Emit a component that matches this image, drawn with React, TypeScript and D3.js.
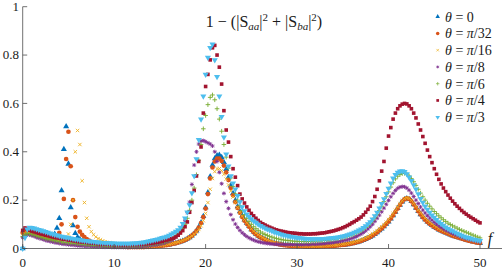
import * as d3 from "d3";

const width = 504;
const height = 268;

// frequencies are sampled every 0.25 from 0 to 50 (201 points per curve)
const fStep = 0.25;

// 1 - (|Saa|^2 + |Sba|^2)
const theta0 = [
  0.000, 0.055, 0.068, 0.066, 0.063, 0.060, 0.057, 0.054, 0.051, 0.048, 0.046, 0.045, 0.046, 0.050, 0.060, 0.085, 0.125, 0.240, 0.410, 0.505,
  0.350, 0.170, 0.095, 0.063, 0.047, 0.038, 0.032, 0.028, 0.025, 0.022, 0.020, 0.018, 0.016, 0.015, 0.013, 0.012, 0.011, 0.010, 0.009, 0.009,
  0.008, 0.008, 0.007, 0.007, 0.006, 0.006, 0.006, 0.006, 0.006, 0.006, 0.006, 0.006, 0.006, 0.007, 0.007, 0.007, 0.008, 0.008, 0.009, 0.010,
  0.011, 0.012, 0.013, 0.015, 0.016, 0.018, 0.020, 0.022, 0.025, 0.028, 0.031, 0.035, 0.040, 0.046, 0.053, 0.062, 0.073, 0.088, 0.107, 0.133,
  0.170, 0.232, 0.298, 0.345, 0.372, 0.385, 0.387, 0.377, 0.357, 0.328, 0.295, 0.260, 0.228, 0.199, 0.174, 0.153, 0.135, 0.119, 0.105, 0.093,
  0.079, 0.069, 0.060, 0.053, 0.047, 0.042, 0.037, 0.033, 0.029, 0.026, 0.023, 0.021, 0.019, 0.017, 0.015, 0.014, 0.013, 0.012, 0.011, 0.010,
  0.010, 0.009, 0.009, 0.009, 0.008, 0.008, 0.008, 0.008, 0.008, 0.008, 0.009, 0.009, 0.009, 0.010, 0.010, 0.011, 0.011, 0.012, 0.013, 0.014,
  0.015, 0.016, 0.017, 0.019, 0.021, 0.023, 0.025, 0.028, 0.031, 0.034, 0.038, 0.043, 0.048, 0.053, 0.059, 0.066, 0.074, 0.082, 0.091, 0.101,
  0.111, 0.123, 0.137, 0.151, 0.166, 0.180, 0.193, 0.203, 0.207, 0.204, 0.195, 0.182, 0.168, 0.154, 0.141, 0.130, 0.120, 0.111, 0.103, 0.096,
  0.089, 0.084, 0.078, 0.073, 0.069, 0.065, 0.061, 0.057, 0.053, 0.050, 0.047, 0.044, 0.041, 0.038, 0.035, 0.033, 0.030, 0.028, 0.026, 0.024,
  0.022,
];

const thetaPi32 = [
  0.065, 0.070, 0.070, 0.067, 0.064, 0.061, 0.058, 0.055, 0.052, 0.049, 0.047, 0.045, 0.044, 0.043, 0.044, 0.050, 0.065, 0.100, 0.205, 0.370,
  0.483, 0.340, 0.200, 0.130, 0.090, 0.070, 0.057, 0.047, 0.039, 0.033, 0.028, 0.024, 0.021, 0.018, 0.016, 0.014, 0.013, 0.012, 0.011, 0.010,
  0.009, 0.009, 0.008, 0.008, 0.007, 0.007, 0.006, 0.006, 0.006, 0.006, 0.006, 0.006, 0.006, 0.006, 0.007, 0.007, 0.008, 0.008, 0.009, 0.010,
  0.011, 0.012, 0.013, 0.014, 0.016, 0.018, 0.020, 0.022, 0.025, 0.028, 0.031, 0.035, 0.040, 0.046, 0.053, 0.062, 0.073, 0.087, 0.105, 0.130,
  0.165, 0.225, 0.290, 0.335, 0.360, 0.372, 0.372, 0.362, 0.343, 0.315, 0.283, 0.250, 0.220, 0.192, 0.168, 0.148, 0.130, 0.115, 0.102, 0.090,
  0.077, 0.067, 0.059, 0.052, 0.046, 0.041, 0.036, 0.032, 0.028, 0.025, 0.022, 0.020, 0.018, 0.016, 0.014, 0.013, 0.012, 0.011, 0.010, 0.010,
  0.009, 0.009, 0.009, 0.008, 0.008, 0.008, 0.008, 0.008, 0.008, 0.008, 0.009, 0.009, 0.009, 0.010, 0.010, 0.011, 0.011, 0.012, 0.013, 0.014,
  0.015, 0.016, 0.018, 0.019, 0.021, 0.023, 0.026, 0.028, 0.031, 0.035, 0.039, 0.043, 0.048, 0.054, 0.060, 0.067, 0.075, 0.083, 0.092, 0.102,
  0.112, 0.124, 0.137, 0.151, 0.165, 0.180, 0.194, 0.204, 0.208, 0.205, 0.195, 0.182, 0.168, 0.154, 0.141, 0.129, 0.119, 0.110, 0.102, 0.095,
  0.089, 0.083, 0.078, 0.073, 0.069, 0.065, 0.061, 0.057, 0.053, 0.050, 0.047, 0.044, 0.041, 0.038, 0.035, 0.032, 0.030, 0.028, 0.026, 0.024,
  0.023,
];

const thetaPi16 = [
  0.055, 0.062, 0.064, 0.063, 0.061, 0.058, 0.055, 0.052, 0.049, 0.046, 0.044, 0.042, 0.040, 0.038, 0.036, 0.035, 0.035, 0.036, 0.038, 0.045,
  0.060, 0.100, 0.200, 0.400, 0.488, 0.430, 0.280, 0.190, 0.125, 0.090, 0.070, 0.057, 0.048, 0.041, 0.036, 0.032, 0.028, 0.025, 0.023, 0.021,
  0.019, 0.017, 0.016, 0.014, 0.013, 0.012, 0.011, 0.010, 0.010, 0.010, 0.009, 0.009, 0.009, 0.009, 0.009, 0.009, 0.010, 0.010, 0.011, 0.012,
  0.013, 0.014, 0.015, 0.016, 0.018, 0.020, 0.022, 0.024, 0.027, 0.030, 0.033, 0.037, 0.041, 0.046, 0.052, 0.059, 0.068, 0.079, 0.094, 0.115,
  0.145, 0.190, 0.245, 0.290, 0.318, 0.330, 0.330, 0.322, 0.307, 0.287, 0.263, 0.238, 0.213, 0.190, 0.169, 0.150, 0.134, 0.120, 0.107, 0.096,
  0.082, 0.072, 0.064, 0.057, 0.051, 0.045, 0.040, 0.036, 0.032, 0.029, 0.026, 0.023, 0.021, 0.019, 0.017, 0.016, 0.015, 0.014, 0.013, 0.012,
  0.012, 0.011, 0.011, 0.011, 0.010, 0.010, 0.010, 0.010, 0.010, 0.010, 0.011, 0.011, 0.011, 0.012, 0.012, 0.013, 0.014, 0.015, 0.016, 0.017,
  0.018, 0.020, 0.021, 0.023, 0.025, 0.028, 0.030, 0.033, 0.037, 0.040, 0.045, 0.049, 0.055, 0.061, 0.067, 0.074, 0.082, 0.090, 0.099, 0.109,
  0.120, 0.132, 0.145, 0.158, 0.172, 0.186, 0.198, 0.206, 0.210, 0.207, 0.199, 0.187, 0.174, 0.160, 0.148, 0.136, 0.126, 0.117, 0.109, 0.102,
  0.095, 0.089, 0.083, 0.078, 0.074, 0.070, 0.066, 0.062, 0.059, 0.055, 0.052, 0.049, 0.046, 0.043, 0.041, 0.038, 0.036, 0.034, 0.032, 0.030,
  0.029,
];

const thetaPi8 = [
  0.045, 0.052, 0.058, 0.056, 0.053, 0.050, 0.046, 0.043, 0.040, 0.037, 0.034, 0.031, 0.029, 0.027, 0.025, 0.023, 0.021, 0.020, 0.018, 0.017,
  0.016, 0.015, 0.014, 0.013, 0.012, 0.011, 0.011, 0.010, 0.009, 0.009, 0.008, 0.008, 0.007, 0.007, 0.007, 0.006, 0.006, 0.006, 0.006, 0.005,
  0.005, 0.005, 0.005, 0.005, 0.005, 0.005, 0.005, 0.006, 0.006, 0.006, 0.007, 0.007, 0.008, 0.009, 0.010, 0.011, 0.012, 0.013, 0.015, 0.016,
  0.018, 0.020, 0.023, 0.026, 0.030, 0.034, 0.040, 0.048, 0.058, 0.072, 0.090, 0.115, 0.148, 0.192, 0.265, 0.345, 0.400, 0.432, 0.445, 0.446,
  0.442, 0.437, 0.432, 0.424, 0.400, 0.360, 0.315, 0.268, 0.228, 0.194, 0.166, 0.140, 0.119, 0.101, 0.087, 0.075, 0.065, 0.057, 0.050, 0.044,
  0.039, 0.035, 0.031, 0.028, 0.026, 0.024, 0.022, 0.021, 0.020, 0.019, 0.018, 0.018, 0.017, 0.017, 0.017, 0.016, 0.016, 0.016, 0.016, 0.016,
  0.016, 0.016, 0.016, 0.016, 0.017, 0.017, 0.017, 0.018, 0.018, 0.019, 0.019, 0.020, 0.021, 0.022, 0.023, 0.024, 0.025, 0.027, 0.028, 0.030,
  0.032, 0.034, 0.036, 0.039, 0.042, 0.046, 0.050, 0.055, 0.060, 0.066, 0.073, 0.081, 0.090, 0.100, 0.112, 0.125, 0.138, 0.152, 0.167, 0.183,
  0.199, 0.214, 0.228, 0.240, 0.249, 0.254, 0.256, 0.255, 0.250, 0.241, 0.229, 0.215, 0.200, 0.186, 0.172, 0.159, 0.147, 0.136, 0.126, 0.117,
  0.108, 0.101, 0.094, 0.087, 0.081, 0.076, 0.071, 0.066, 0.062, 0.058, 0.054, 0.051, 0.047, 0.044, 0.041, 0.039, 0.036, 0.034, 0.032, 0.030,
  0.028,
];

const thetaPi6 = [
  0.050, 0.056, 0.062, 0.061, 0.059, 0.056, 0.053, 0.050, 0.047, 0.044, 0.041, 0.039, 0.037, 0.035, 0.033, 0.031, 0.029, 0.028, 0.026, 0.025,
  0.024, 0.023, 0.022, 0.021, 0.020, 0.019, 0.018, 0.017, 0.016, 0.015, 0.015, 0.014, 0.013, 0.013, 0.012, 0.012, 0.011, 0.011, 0.011, 0.010,
  0.010, 0.010, 0.010, 0.010, 0.010, 0.010, 0.010, 0.010, 0.011, 0.011, 0.012, 0.012, 0.013, 0.014, 0.015, 0.016, 0.017, 0.018, 0.020, 0.021,
  0.023, 0.025, 0.027, 0.030, 0.034, 0.038, 0.044, 0.051, 0.060, 0.070, 0.083, 0.100, 0.125, 0.158, 0.200, 0.250, 0.305, 0.365, 0.430, 0.495,
  0.550, 0.595, 0.625, 0.635, 0.615, 0.578, 0.535, 0.485, 0.430, 0.378, 0.332, 0.292, 0.257, 0.226, 0.200, 0.177, 0.157, 0.140, 0.125, 0.112,
  0.100, 0.090, 0.082, 0.075, 0.068, 0.063, 0.058, 0.054, 0.050, 0.047, 0.044, 0.041, 0.039, 0.037, 0.035, 0.034, 0.033, 0.032, 0.031, 0.030,
  0.030, 0.029, 0.029, 0.029, 0.029, 0.029, 0.029, 0.030, 0.030, 0.031, 0.031, 0.032, 0.033, 0.034, 0.035, 0.036, 0.038, 0.039, 0.041, 0.043,
  0.045, 0.047, 0.050, 0.053, 0.056, 0.060, 0.064, 0.069, 0.074, 0.080, 0.087, 0.095, 0.104, 0.115, 0.127, 0.141, 0.157, 0.175, 0.194, 0.214,
  0.234, 0.254, 0.272, 0.288, 0.299, 0.306, 0.310, 0.311, 0.308, 0.300, 0.289, 0.276, 0.261, 0.245, 0.229, 0.214, 0.200, 0.187, 0.175, 0.164,
  0.153, 0.144, 0.135, 0.127, 0.119, 0.112, 0.105, 0.099, 0.094, 0.089, 0.084, 0.079, 0.075, 0.071, 0.067, 0.063, 0.059, 0.055, 0.051, 0.047,
  0.044,
];

const thetaPi4 = [
  0.075, 0.085, 0.080, 0.076, 0.072, 0.069, 0.066, 0.063, 0.060, 0.058, 0.055, 0.053, 0.050, 0.048, 0.046, 0.044, 0.042, 0.040, 0.038, 0.037,
  0.035, 0.034, 0.032, 0.031, 0.029, 0.028, 0.027, 0.026, 0.025, 0.024, 0.023, 0.022, 0.021, 0.020, 0.019, 0.019, 0.018, 0.018, 0.017, 0.017,
  0.016, 0.016, 0.016, 0.015, 0.015, 0.015, 0.016, 0.016, 0.016, 0.017, 0.017, 0.018, 0.018, 0.019, 0.020, 0.021, 0.022, 0.023, 0.025, 0.026,
  0.028, 0.030, 0.033, 0.035, 0.038, 0.040, 0.043, 0.048, 0.055, 0.064, 0.074, 0.090, 0.110, 0.150, 0.190, 0.240, 0.300, 0.360, 0.420, 0.560,
  0.670, 0.720, 0.780, 0.830, 0.840, 0.800, 0.750, 0.680, 0.570, 0.490, 0.440, 0.380, 0.330, 0.295, 0.260, 0.225, 0.205, 0.188, 0.172, 0.158,
  0.145, 0.135, 0.125, 0.116, 0.108, 0.102, 0.097, 0.092, 0.088, 0.084, 0.080, 0.077, 0.074, 0.072, 0.070, 0.068, 0.066, 0.065, 0.064, 0.063,
  0.062, 0.061, 0.061, 0.060, 0.060, 0.060, 0.060, 0.061, 0.061, 0.062, 0.063, 0.064, 0.065, 0.067, 0.069, 0.071, 0.073, 0.076, 0.079, 0.082,
  0.086, 0.090, 0.095, 0.100, 0.106, 0.111, 0.117, 0.123, 0.130, 0.139, 0.150, 0.162, 0.175, 0.194, 0.215, 0.245, 0.280, 0.320, 0.360, 0.415,
  0.465, 0.500, 0.535, 0.560, 0.578, 0.590, 0.597, 0.600, 0.598, 0.590, 0.578, 0.560, 0.540, 0.515, 0.490, 0.463, 0.435, 0.407, 0.380, 0.355,
  0.330, 0.307, 0.286, 0.267, 0.250, 0.235, 0.221, 0.208, 0.196, 0.185, 0.175, 0.166, 0.157, 0.149, 0.142, 0.135, 0.129, 0.123, 0.117, 0.111,
  0.106,
];

const thetaPi3 = [
  0.000, 0.045, 0.080, 0.087, 0.086, 0.084, 0.081, 0.078, 0.075, 0.072, 0.069, 0.066, 0.063, 0.060, 0.057, 0.055, 0.052, 0.050, 0.048, 0.046,
  0.044, 0.042, 0.040, 0.038, 0.037, 0.035, 0.034, 0.032, 0.031, 0.030, 0.029, 0.028, 0.027, 0.026, 0.025, 0.024, 0.024, 0.023, 0.023, 0.022,
  0.022, 0.021, 0.021, 0.021, 0.021, 0.021, 0.021, 0.021, 0.022, 0.022, 0.023, 0.024, 0.025, 0.026, 0.028, 0.030, 0.032, 0.034, 0.036, 0.038,
  0.041, 0.044, 0.047, 0.050, 0.054, 0.059, 0.064, 0.070, 0.077, 0.087, 0.102, 0.125, 0.150, 0.180, 0.230, 0.300, 0.370, 0.450, 0.535, 0.630,
  0.720, 0.790, 0.830, 0.845, 0.780, 0.710, 0.630, 0.545, 0.460, 0.390, 0.340, 0.300, 0.270, 0.245, 0.218, 0.192, 0.172, 0.155, 0.142, 0.131,
  0.122, 0.114, 0.107, 0.100, 0.094, 0.089, 0.084, 0.080, 0.076, 0.072, 0.068, 0.065, 0.062, 0.059, 0.056, 0.054, 0.052, 0.050, 0.048, 0.046,
  0.044, 0.043, 0.042, 0.041, 0.040, 0.040, 0.039, 0.039, 0.039, 0.039, 0.039, 0.040, 0.040, 0.041, 0.042, 0.043, 0.044, 0.045, 0.047, 0.049,
  0.051, 0.053, 0.056, 0.059, 0.062, 0.066, 0.070, 0.075, 0.080, 0.086, 0.093, 0.101, 0.110, 0.121, 0.134, 0.149, 0.166, 0.185, 0.205, 0.226,
  0.248, 0.270, 0.290, 0.305, 0.314, 0.319, 0.320, 0.317, 0.308, 0.295, 0.280, 0.263, 0.245, 0.225, 0.206, 0.190, 0.175, 0.161, 0.149, 0.138,
  0.128, 0.119, 0.110, 0.102, 0.095, 0.088, 0.082, 0.077, 0.072, 0.067, 0.062, 0.058, 0.054, 0.050, 0.047, 0.044, 0.041, 0.038, 0.036, 0.034,
  0.032,
];

const thetaLabels = ["0", "π/32", "π/16", "π/8", "π/6", "π/4", "π/3"];
const colors = ["#0072BD", "#D95319", "#EDB120", "#7E2F8E", "#77AC30", "#A2142F", "#4DBEEE"];
const markerKinds = ["triUp", "circle", "times", "star", "plus", "square", "triDown"];
const seriesValues = [theta0, thetaPi32, thetaPi16, thetaPi8, thetaPi6, thetaPi4, thetaPi3];

const xTicks = [0, 10, 20, 30, 40, 50];
const yTicks = [0, 0.2, 0.4, 0.6, 0.8, 1];

const x = d3.scaleLinear([0, 50], [22.7, 480]);
const y = d3.scaleLinear([0, 1], [248.5, 6.7]);

const serif = "'Liberation Serif', 'DejaVu Serif', 'Times New Roman', serif";

// marker glyphs
const triPath = d3.symbol(d3.symbolTriangle, 16)() as string;
const circlePath = d3.symbol(d3.symbolCircle, 17)() as string;
const squarePath = d3.symbol(d3.symbolSquare, 13)() as string;
const timesPath = "M-1.7,-1.7L1.7,1.7M-1.7,1.7L1.7,-1.7";
const plusPath = "M-2.3,0H2.3M0,-2.3V2.3";
const starPath = "M-2,0H2M0,-2V2M-1.45,-1.45L1.45,1.45M-1.45,1.45L1.45,-1.45";

function Marker({ kind, color, cx, cy, scale = 1 }: { kind: string; color: string; cx: number; cy: number; scale?: number }) {
  const t = `translate(${cx},${cy}) scale(${scale})`;
  switch (kind) {
    case "triUp":
      return <path d={triPath} transform={t} fill={color} />;
    case "triDown":
      return <path d={triPath} transform={`${t} rotate(180)`} fill={color} />;
    case "circle":
      return <path d={circlePath} transform={t} fill={color} />;
    case "square":
      return <path d={squarePath} transform={t} fill={color} />;
    case "times":
      return <path d={timesPath} transform={t} stroke={color} strokeWidth={0.9} fill="none" />;
    case "plus":
      return <path d={plusPath} transform={t} stroke={color} strokeWidth={0.9} fill="none" />;
    default:
      return <path d={starPath} transform={t} stroke={color} strokeWidth={0.9} fill="none" />;
  }
}

export default function App() {
  const axisColor = "#4d4d4d";
  const textColor = "#1a1a1a";

  return (
    <svg
      width={width}
      height={height}
      style={{ position: "absolute", left: 0, top: 0, background: "#fff", fontFamily: serif }}
    >
      {/* data */}
      {seriesValues.map((vals, s) => (
        <g key={s}>
          {vals.map((v, i) => (
            <Marker key={i} kind={markerKinds[s]} color={colors[s]} cx={x(i * fStep)} cy={y(v)} />
          ))}
        </g>
      ))}

      {/* y axis */}
      <line x1={x(0)} x2={x(0)} y1={y(1)} y2={y(0)} stroke={axisColor} strokeWidth={0.8} />
      {yTicks.map((t) => (
        <g key={t}>
          <line x1={x(0)} x2={x(0) + 4.5} y1={y(t)} y2={y(t)} stroke={axisColor} strokeWidth={0.8} />
          <text x={19} y={y(t)} dy="0.33em" textAnchor="end" fontSize={13} fill={textColor} style={{ fontFamily: serif }}>
            {t}
          </text>
        </g>
      ))}

      {/* x axis */}
      <line x1={x(0)} x2={502} y1={y(0)} y2={y(0)} stroke={axisColor} strokeWidth={0.8} />
      {xTicks.map((t) => (
        <g key={t}>
          <line x1={x(t)} x2={x(t)} y1={y(0)} y2={y(0) - 4.5} stroke={axisColor} strokeWidth={0.8} />
          <text x={x(t)} y={266.5} textAnchor="middle" fontSize={13} fill={textColor} style={{ fontFamily: serif }}>
            {t}
          </text>
        </g>
      ))}
      <text x={490} y={244} textAnchor="middle" fontSize={16} fontStyle="italic" fill={textColor} style={{ fontFamily: serif }}>
        f
      </text>

      {/* title */}
      <text x={264} y={26.5} textAnchor="middle" fontSize={16} fill={textColor} style={{ fontFamily: serif }}>
        1 − (|S
        <tspan fontStyle="italic" fontSize={11} dy={3}>aa</tspan>
        <tspan dy={-3}>|</tspan>
        <tspan fontSize={11} dy={-6}>2</tspan>
        <tspan dy={6}> + |S</tspan>
        <tspan fontStyle="italic" fontSize={11} dy={3}>ba</tspan>
        <tspan dy={-3}>|</tspan>
        <tspan fontSize={11} dy={-6}>2</tspan>
        <tspan dy={6}>)</tspan>
      </text>

      {/* legend */}
      {thetaLabels.map((lab, s) => {
        const cy = 16.7 + s * 16.75;
        const isPi = lab.startsWith("π");
        return (
          <g key={lab}>
            <Marker kind={markerKinds[s]} color={colors[s]} cx={437.7} cy={cy} scale={0.75} />
            <text x={445} y={cy} dy="0.35em" fontSize={14} fill={textColor} style={{ fontFamily: serif }}>
              <tspan fontStyle="italic">θ</tspan>
              {" = "}
              {isPi ? (
                <>
                  <tspan fontStyle="italic">π</tspan>
                  {lab.slice(1)}
                </>
              ) : (
                lab
              )}
            </text>
          </g>
        );
      })}
    </svg>
  );
}
